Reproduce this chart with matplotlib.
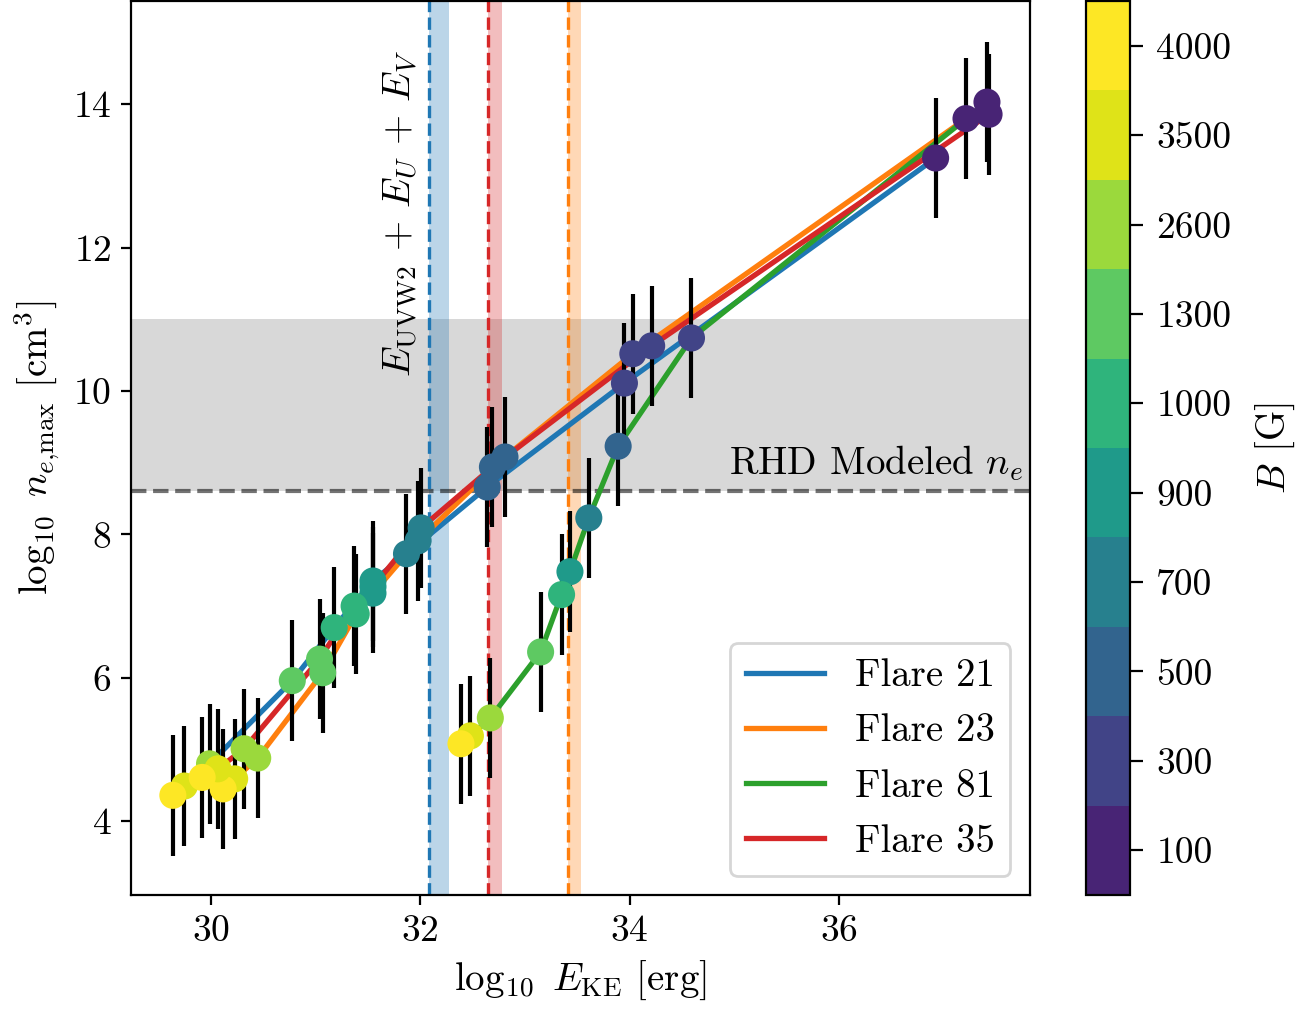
import matplotlib
matplotlib.use('Agg')
import matplotlib.pyplot as plt
import numpy as np
from matplotlib.colors import ListedColormap, BoundaryNorm

plt.rcParams['font.family'] = 'serif'
plt.rcParams['font.serif'] = ['cmr10']
plt.rcParams['mathtext.fontset'] = 'cm'
plt.rcParams['axes.formatter.use_mathtext'] = True
plt.rcParams['font.size'] = 13.5

# B field values (G), same order for every flare
B_vals = [100, 300, 500, 700, 900, 1000, 1300, 2600, 3500, 4000]

# log10 E_KE and log10 n_e,max for each flare, one point per B value
x_21 = [36.92, 33.95, 32.64, 31.87, 31.55, 31.18, 30.78, 29.99, 29.75, 29.64]
y_21 = [13.25, 10.11, 8.66, 7.73, 7.35, 6.70, 5.96, 4.80, 4.49, 4.36]

x_23 = [37.21, 34.03, 32.81, 31.98, 31.55, 31.39, 31.07, 30.45, 30.23, 30.12]
y_23 = [13.80, 10.52, 9.08, 7.91, 7.18, 6.89, 6.07, 4.88, 4.59, 4.45]

x_81 = [37.41, 34.59, 33.89, 33.61, 33.43, 33.35, 33.15, 32.67, 32.48, 32.39]
y_81 = [14.03, 10.74, 9.23, 8.23, 7.48, 7.16, 6.36, 5.44, 5.19, 5.08]

x_35 = [37.43, 34.21, 32.69, 32.01, 31.55, 31.37, 31.04, 30.32, 30.07, 29.92]
y_35 = [13.86, 10.63, 8.94, 8.09, 7.27, 7.00, 6.26, 5.01, 4.73, 4.61]

yerr = 0.84

# observed energies E_UVW2 + E_U + E_V (low, high)
E_obs_21 = (32.08, 32.28)
E_obs_35 = (32.645, 32.78)
E_obs_23 = (33.41, 33.54)

rhd_lo, rhd_hi = 8.6, 11.0

flares = [('Flare 21', x_21, y_21, 'C0'),
          ('Flare 23', x_23, y_23, 'C1'),
          ('Flare 81', x_81, y_81, 'C2'),
          ('Flare 35', x_35, y_35, 'C3')]

cpos = [0.1, 0.2, 0.32, 0.43, 0.54, 0.65, 0.75, 0.85, 0.95, 1.0]
cmap = ListedColormap(plt.cm.viridis(cpos))
norm = BoundaryNorm(np.arange(len(B_vals) + 1), cmap.N)
b_idx = np.arange(len(B_vals)) + 0.5

fig = plt.figure(figsize=(6.56, 5.095), dpi=200)
ax = fig.add_axes([0.0998, 0.1217, 0.6852, 0.8773])
cax = fig.add_axes([0.8277, 0.1217, 0.0335, 0.8773])

ax.axhspan(rhd_lo, rhd_hi, color='gray', alpha=0.3, lw=0, zorder=0)
ax.axhline(rhd_lo, color='k', alpha=0.55, ls='--', lw=1.5, zorder=0.5)

for (lo, hi), c in [(E_obs_21, 'C0'), (E_obs_35, 'C3'), (E_obs_23, 'C1')]:
    ax.axvspan(lo, hi, color=c, alpha=0.3, lw=0, zorder=0)
    ax.axvline(lo, color=c, ls='--', lw=1.2, zorder=0.6)

for name, xs, ys, c in flares:
    ax.plot(xs, ys, color=c, lw=1.9, label=name, zorder=1)
for name, xs, ys, c in flares:
    ax.errorbar(xs, ys, yerr=yerr, fmt='none', ecolor='k', elinewidth=1.5, zorder=2)
for name, xs, ys, c in flares:
    ax.scatter(xs, ys, c=b_idx, cmap=cmap, norm=norm, s=95, edgecolors='none', zorder=3)

ax.text(32.0, 10.2, r'$E_{\rm UVW2}$ + $E_U$ + $E_V$', rotation=90, ha='right', va='bottom', fontsize=14)
ax.text(37.75, 8.72, r'RHD Modeled $n_e$', ha='right', va='bottom', fontsize=14)

ax.set_xlim(29.24, 37.82)
ax.set_ylim(2.97, 15.44)
ax.set_xticks([30, 32, 34, 36])
ax.set_yticks([4, 6, 8, 10, 12, 14])
ax.set_xlabel(r'$\log_{10}\ E_{\rm KE}$ [erg]', fontsize=14)
ax.set_ylabel(r'$\log_{10}\ n_{e{,}\rm max}$ [cm$^3$]', fontsize=14)

ax.legend(loc='lower right', handlelength=2.0, fontsize=14, borderaxespad=0.5)

sm = plt.cm.ScalarMappable(cmap=cmap, norm=norm)
cb = fig.colorbar(sm, cax=cax, ticks=b_idx)
cb.set_ticklabels([str(b) for b in B_vals])
cb.ax.minorticks_off()
cb.ax.tick_params(length=4.5, pad=5)
cb.set_label(r'$B$ [G]', fontsize=14, labelpad=8)

fig.savefig('out.png', dpi=200)
